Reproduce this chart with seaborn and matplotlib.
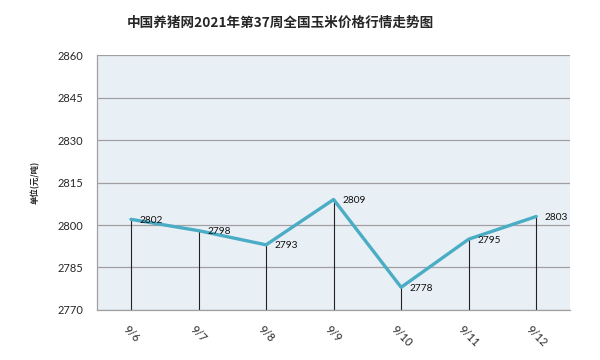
import pandas as pd
import numpy as np
import matplotlib.pyplot as plt
import seaborn as sns

# dati
giorni = ["9/6", "9/7", "9/8", "9/9", "9/10", "9/11", "9/12"]
prezzi = [2802, 2798, 2793, 2809, 2778, 2795, 2803]
y_ticks = [2770, 2785, 2800, 2815, 2830, 2845, 2860]

titolo = "中国养猪网2021年第37周全国玉米价格行情走势图"
etichetta_y = "单位(元/吨)"

df = pd.DataFrame({"giorno": giorni, "prezzo": prezzi})

sns.set_style("white")
plt.rcParams["font.family"] = ["Noto Sans CJK SC", "DejaVu Sans"]

fig = plt.figure(figsize=(6, 3.6), dpi=100)
ax = fig.add_axes([0.162, 0.139, 0.788, 0.708])
ax.set_facecolor("#E9F0F5")

pos = np.arange(len(giorni))

# linee verticali dal punto fino all'asse
ax.vlines(pos, y_ticks[0], prezzi, color="#222222", linewidth=0.8, zorder=2)

sns.lineplot(data=df, x="giorno", y="prezzo", sort=False, color="#4BACC6",
             linewidth=2.4, ax=ax, zorder=3)

for x, v in zip(pos, prezzi):
    ax.text(x + 0.13, v - 0.4, str(v), fontsize=7.3, va="center", ha="left",
            family=["Lato", "DejaVu Sans"], color="#111111", zorder=4)

ax.set_xlim(-0.5, len(giorni) - 0.5)
ax.set_ylim(y_ticks[0], y_ticks[-1])
ax.set_yticks(y_ticks)
ax.set_yticklabels([str(t) for t in y_ticks], family=["Lato", "DejaVu Sans"], fontsize=8)
ax.set_xticks(pos)
ax.set_xticklabels(giorni, rotation=-45, ha="center", family=["Lato", "DejaVu Sans"], fontsize=8)
ax.tick_params(axis="x", length=0, pad=10)
ax.tick_params(axis="y", length=4, color="#A0A0A0", pad=6)

# tacche piccole tra le categorie
ax.set_xticks(np.arange(-0.5, len(giorni)), minor=True)
ax.tick_params(axis="x", which="minor", direction="in", length=5, color="#A0A0A0")

ax.yaxis.grid(True, color="#A0A0A0", linewidth=0.9)
ax.set_axisbelow(True)
for s in ["top", "right"]:
    ax.spines[s].set_visible(False)
for s in ["left", "bottom"]:
    ax.spines[s].set_color("#A0A0A0")
    ax.spines[s].set_linewidth(0.9)

ax.set_xlabel("")
ax.set_ylabel(etichetta_y, fontsize=6, fontweight="heavy", labelpad=13)
fig.suptitle(titolo, fontsize=9.8, fontweight="bold", y=0.955, x=0.468)

fig.savefig("out.png", dpi=100)
